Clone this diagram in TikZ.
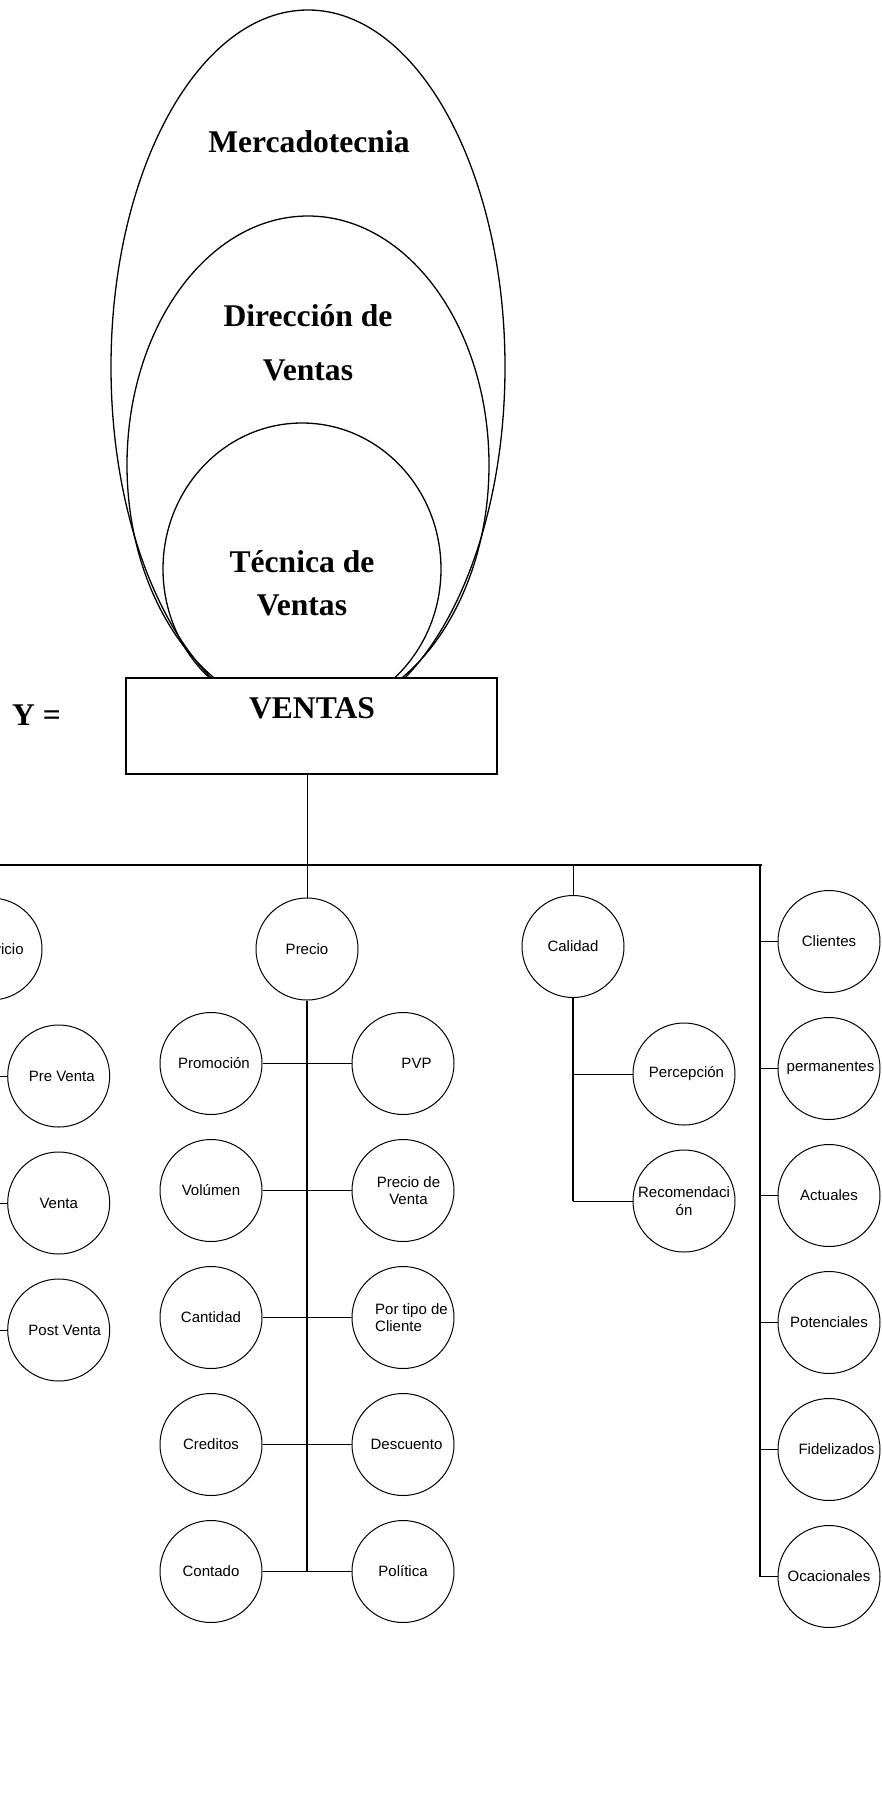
\documentclass[tikz,border=0pt]{standalone}
\usepackage{fontspec}
\setmainfont{Liberation Serif}
\newfontfamily\arialf{Liberation Sans}
\usetikzlibrary{shapes.geometric}
% shift a line of text to the right inside its circle
\newcommand{\rsh}[1]{\hspace*{#1}}
\begin{document}
\begin{tikzpicture}[x=1pt,y=-1pt,
  title/.style={font=\bfseries\fontsize{31.6}{38}\selectfont, align=center, inner sep=0pt},
  oval/.style={ellipse, draw, line width=1.3pt, inner sep=0pt},
  bub/.style={circle, draw, line width=1pt, minimum size=102pt, inner sep=0pt,
    align=center, font=\arialf\fontsize{15}{17.4}\selectfont},
  link/.style={line width=1pt},
  trunk/.style={line width=1.8pt}]
\useasboundingbox (0,0) rectangle (882,1813);
\clip (0,0) rectangle (882,1813);

% nested ovals
\node[oval, minimum width=394pt, minimum height=714pt] (mkt) at (308,367) {};
\node[oval, minimum width=362pt, minimum height=498pt] (dir) at (308,465) {};
\node[oval, minimum width=278pt, minimum height=292pt] (tec) at (302,569) {};
\node[title] (mkt-t) at (309,142) {Mercadotecnia};
\node[title, font=\bfseries\fontsize{31.6}{54}\selectfont] (dir-t) at (308,343) {Dirección de\\Ventas};
\node[title, font=\bfseries\fontsize{31.6}{43}\selectfont] (tec-t) at (302,583) {Técnica de\\Ventas};

% main box
\node[draw, fill=white, line width=2pt, minimum width=371pt, minimum height=96pt, inner sep=0pt] (ventas) at (311.5,725.5) {};
\node[title] (ventas-t) at (312,708) {VENTAS};
\node[title] (y-t) at (36.5,715) {Y =};

% first level
\coordinate (busL) at (-40,865);
\coordinate (busR) at (762,865);
\coordinate (cline) at (760,865);
\node[bub] (serv) at (-9,949) {\rsh{12pt}Servicio};
\node[bub] (precio) at (307,949) {Precio};
\node[bub] (calidad) at (573,946.5) {Calidad};

% Servicio branch
\node[bub] (pre) at (58.7,1076) {\rsh{6pt}Pre Venta};
\node[bub] (venta) at (58.7,1203) {Venta};
\node[bub] (post) at (58.7,1330) {\rsh{12pt}Post Venta};

% Precio branch
\node[bub] (promo) at (211,1063.5) {\rsh{6pt}Promoción};
\node[bub] (vol) at (211,1190.5) {Volúmen};
\node[bub] (cant) at (211,1317.5) {Cantidad};
\node[bub] (cred) at (211,1444.5) {Creditos};
\node[bub] (cont) at (211,1571.5) {Contado};
\node[bub] (pvp) at (403,1063.5) {\rsh{27pt}PVP};
\node[bub] (pventa) at (403,1190.5) {\rsh{11pt}Precio de\\\rsh{11pt}Venta};
\node[bub, align=left] (ptipo) at (403,1317.5) {\rsh{17pt}Por tipo de\\\rsh{17pt}Cliente};
\node[bub] (desc) at (403,1444.5) {\rsh{7pt}Descuento};
\node[bub] (pol) at (403,1571.5) {Política};

% Calidad branch
\node[bub] (perc) at (684,1074) {\rsh{5pt}Percepción};
\node[bub] (reco) at (684,1201) {Recomendaci\\ón};

% Clientes branch
\node[bub] (cli) at (829,941.5) {Clientes};
\node[bub] (perm) at (829,1068.5) {\rsh{3pt}permanentes};
\node[bub] (act) at (829,1195.5) {Actuales};
\node[bub] (pot) at (829,1322.5) {Potenciales};
\node[bub] (fid) at (829,1449.5) {\rsh{15pt}Fidelizados};
\node[bub] (oca) at (829,1576.5) {Ocacionales};

% connectors
\draw[line width=1.3pt] (busL) -- (busR);
\draw[link] (precio |- ventas.south) -- (precio |- busL);
\draw[link] (serv.north) -- (serv.north |- busL);
\draw[link] (precio.north) -- (precio.north |- busL);
\draw[link] (calidad.north) -- (calidad.north |- busL);

\draw[link] (serv.south) -- (serv.south |- post.west);
\draw[link] (serv.south |- pre.west) -- (pre.west);
\draw[link] (serv.south |- venta.west) -- (venta.west);
\draw[link] (serv.south |- post.west) -- (post.west);

\draw[trunk] (precio.south) -- (precio.south |- cont.east);
\draw[link] (promo.east) -- (pvp.west);
\draw[link] (vol.east) -- (pventa.west);
\draw[link] (cant.east) -- (ptipo.west);
\draw[link] (cred.east) -- (desc.west);
\draw[link] (cont.east) -- (pol.west);

\draw[line width=1.5pt] (calidad.south) -- (calidad.south |- reco.west);
\draw[link] (calidad.south |- perc.west) -- (perc.west);
\draw[link] (calidad.south |- reco.west) -- (reco.west);

\draw[trunk] (cline) -- (cline |- oca.west);
\draw[link] (cline |- cli.west) -- (cli.west);
\draw[link] (cline |- perm.west) -- (perm.west);
\draw[link] (cline |- act.west) -- (act.west);
\draw[link] (cline |- pot.west) -- (pot.west);
\draw[link] (cline |- fid.west) -- (fid.west);
\draw[link] (cline |- oca.west) -- (oca.west);
\end{tikzpicture}
\end{document}
